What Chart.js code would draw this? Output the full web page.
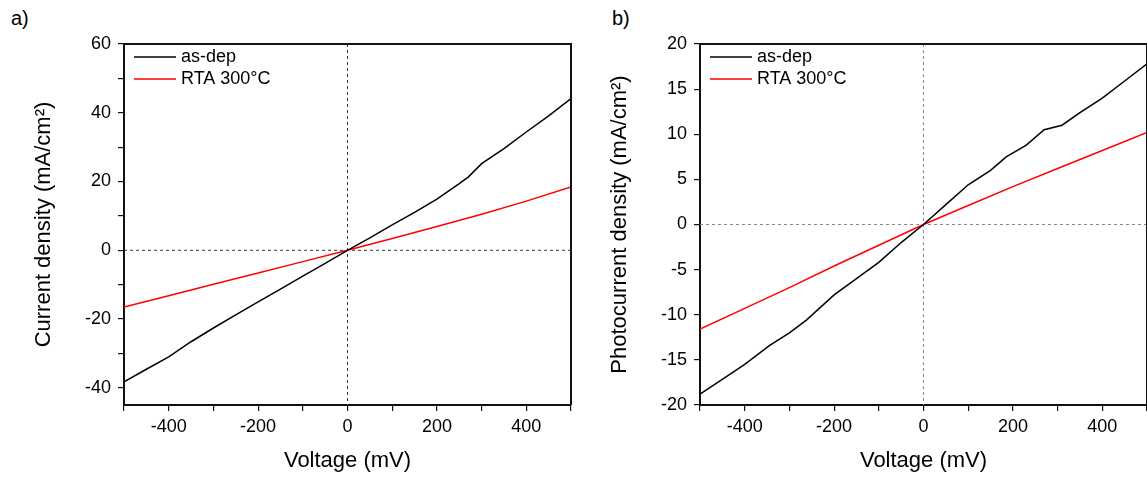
<!DOCTYPE html>
<html>
<head>
<meta charset="utf-8">
<script src="https://cdn.jsdelivr.net/npm/chart.js@4"></script>
<style>
  html, body { margin: 0; padding: 0; background: #fff; overflow: hidden; }
  body { width: 1147px; height: 477px; position: relative; }
  .panel { position: absolute; top: 0; width: 576px; height: 477px; }
  .tag { position: absolute; top: 8px; font: 20px "Liberation Sans", Arial, sans-serif; color: #000; line-height: 1; }
</style>
</head>
<body>
<div class="tag" style="left:11px">a)</div>
<div class="tag" style="left:612px">b)</div>
<div class="panel" style="left:0"><canvas id="chartA"></canvas></div>
<div class="panel" style="left:576px"><canvas id="chartB"></canvas></div>
<script>
// panel a - current density
var voltageA = [-500, -450, -400, -350, -300, -250, -200, -150, -100, -50, 0, 50, 100, 150, 200, 250, 270, 300, 350, 400, 450, 500];
var asDepA = [-38.3, -34.6, -31.0, -26.6, -22.6, -18.8, -15.0, -11.3, -7.5, -3.8, 0, 3.6, 7.4, 11.0, 14.9, 19.4, 21.3, 25.2, 29.6, 34.4, 39.1, 44.1];
var voltageA2 = [-500, -400, -300, -200, -100, 0, 100, 200, 300, 400, 500];
var rtaA = [-16.5, -13.2, -9.9, -6.6, -3.3, 0, 3.4, 6.9, 10.5, 14.3, 18.4];

// panel b - photocurrent density
var voltageB = [-500, -430, -400, -344, -300, -262, -200, -150, -100, -50, 0, 50, 100, 150, 185, 230, 270, 310, 350, 400, 450, 500];
var asDepB = [-18.8, -16.5, -15.5, -13.4, -12.0, -10.6, -7.8, -6.0, -4.2, -2.0, 0, 2.2, 4.4, 6.0, 7.5, 8.8, 10.5, 11.0, 12.4, 14.0, 15.9, 17.8];
var voltageB2 = [-500, -400, -300, -200, -100, 0, 100, 200, 300, 400, 500];
var rtaB = [-11.6, -9.3, -7.0, -4.6, -2.3, 0, 2.1, 4.2, 6.2, 8.2, 10.2];

var seriesLabels = ["as-dep", "RTA 300°C"];
var seriesColors = ["#000000", "#ff0000"];

var FONT = "'Liberation Sans', Arial, sans-serif";

function pts(xs, ys) {
  return xs.map(function (x, i) { return { x: x, y: ys[i] }; });
}

// zero lines, top/right frame and the inside legend
var extras = {
  id: "extras",
  beforeDatasetsDraw: function (chart, args, opts) {
    var ctx = chart.ctx, a = chart.chartArea;
    var x0 = chart.scales.x.getPixelForValue(0);
    var y0 = chart.scales.y.getPixelForValue(0);
    ctx.save();
    ctx.strokeStyle = opts.zeroColor;
    ctx.lineWidth = 1;
    ctx.setLineDash([3, 3]);
    ctx.beginPath();
    ctx.moveTo(a.left, y0); ctx.lineTo(a.right, y0);
    ctx.moveTo(x0, a.top); ctx.lineTo(x0, a.bottom);
    ctx.stroke();
    ctx.restore();
  },
  afterDraw: function (chart) {
    var ctx = chart.ctx, a = chart.chartArea;
    ctx.save();
    ctx.strokeStyle = "#111";
    ctx.lineWidth = 2;
    ctx.beginPath();
    ctx.moveTo(a.left, a.top); ctx.lineTo(a.right, a.top); ctx.lineTo(a.right, a.bottom);
    ctx.stroke();
    ctx.font = "18px " + FONT;
    ctx.textBaseline = "middle";
    ctx.fillStyle = "#000";
    chart.data.datasets.forEach(function (ds, i) {
      var y = a.top + 13 + i * 22;
      ctx.strokeStyle = ds.borderColor;
      ctx.lineWidth = 1.5;
      ctx.beginPath();
      ctx.moveTo(a.left + 10, y); ctx.lineTo(a.left + 52, y);
      ctx.stroke();
      ctx.fillText(ds.label, a.left + 57, y);
    });
    ctx.restore();
  }
};

function makeChart(id, sets, yMin, yMax, yStep, yLabelEvery, yTitle, zeroColor) {
  return new Chart(document.getElementById(id), {
    type: "line",
    data: {
      datasets: sets.map(function (s, i) {
        return {
          label: seriesLabels[i],
          data: s,
          borderColor: seriesColors[i],
          borderWidth: 1.5,
          pointRadius: 0,
          tension: 0,
          fill: false
        };
      })
    },
    options: {
      responsive: true,
      maintainAspectRatio: false,
      animation: false,
      events: [],
      layout: { padding: { top: 44, right: 2, left: 0, bottom: 0 } },
      plugins: {
        legend: { display: false },
        tooltip: { enabled: false },
        extras: { zeroColor: zeroColor }
      },
      scales: {
        x: {
          type: "linear",
          min: -500,
          max: 500,
          border: { color: "#111", width: 2 },
          grid: { drawOnChartArea: false, color: "#111", tickLength: 6, lineWidth: 1.2 },
          ticks: {
            stepSize: 100,
            padding: 5,
            color: "#000",
            font: { family: FONT, size: 18 },
            callback: function (v) { return v % 200 === 0 ? v : ""; }
          },
          title: { display: true, text: "Voltage (mV)", color: "#000", font: { family: FONT, size: 22 }, padding: { bottom: 3 } },
          afterFit: function (s) { s.height = 72; }
        },
        y: {
          min: yMin,
          max: yMax,
          border: { color: "#111", width: 2 },
          grid: { drawOnChartArea: false, color: "#111", tickLength: 6, lineWidth: 1.2 },
          ticks: {
            stepSize: yStep,
            includeBounds: false,
            padding: 7,
            color: "#000",
            font: { family: FONT, size: 18 },
            callback: function (v) { return v % yLabelEvery === 0 ? v : ""; }
          },
          title: { display: true, text: yTitle, color: "#000", font: { family: FONT, size: 22 }, padding: { top: 31 } },
          afterFit: function (s) { s.width = 124; }
        }
      }
    },
    plugins: [extras]
  });
}

makeChart("chartA", [pts(voltageA, asDepA), pts(voltageA2, rtaA)], -45, 60, 10, 20, "Current density (mA/cm²)", "#333");
makeChart("chartB", [pts(voltageB, asDepB), pts(voltageB2, rtaB)], -20, 20, 2.5, 5, "Photocurrent density (mA/cm²)", "#888");
</script>
</body>
</html>
